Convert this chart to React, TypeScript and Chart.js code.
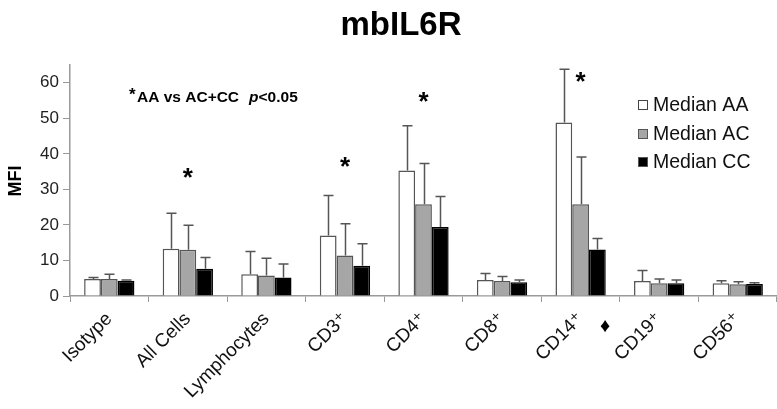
import React, { useEffect, useRef } from "react";
import { Chart, registerables } from "chart.js";

Chart.register(...registerables);

const categories = ["Isotype", "All Cells", "Lymphocytes", "CD3⁺", "CD4⁺", "CD8⁺", "CD14⁺", "CD19⁺", "CD56⁺"];
const markedCategory = 7;
const seriesNames = ["Median AA", "Median AC", "Median CC"];
const medianAA = [4.8, 13.3, 6.1, 17.0, 35.3, 4.5, 48.8, 4.2, 3.6];
const medianAC = [4.8, 13.0, 5.8, 11.4, 25.8, 4.2, 25.8, 3.6, 3.3];
const medianCC = [4.3, 7.7, 5.2, 8.5, 19.4, 3.9, 13.1, 3.6, 3.4];
const errTopAA = [5.2, 23.3, 12.5, 28.3, 47.9, 6.3, 63.8, 7.2, 4.3];
const errTopAC = [6.1, 19.9, 10.6, 20.3, 37.3, 5.5, 39.1, 4.8, 4.0];
const errTopCC = [4.5, 10.8, 9.0, 14.7, 28.0, 4.5, 16.2, 4.5, 3.7];
const starCategories = [1, 3, 4, 6];
const starValues = [34.5, 37.5, 55.7, 61.3];
const yTicks = [0, 10, 20, 30, 40, 50, 60];

const FONT = "'Liberation Sans', Arial, 'DejaVu Sans', sans-serif";
const fills = ["#ffffff", "#a6a6a6", "#000000"];
const borders = ["#555555", "#555555", "#000000"];

const overlay = {
  id: "overlay",
  afterDatasetsDraw(chart: any) {
    const ctx = chart.ctx;
    const x = chart.scales.x;
    const y = chart.scales.y;
    const errs = [errTopAA, errTopAC, errTopCC];
    ctx.save();
    // error bars
    ctx.strokeStyle = "#555";
    ctx.lineWidth = 1.5;
    errs.forEach((arr, di) => {
      const meta = chart.getDatasetMeta(di);
      meta.data.forEach((bar: any, i: number) => {
        const cx = Math.round(bar.x) + 0.5;
        const yTop = y.getPixelForValue(arr[i]);
        const yBar = bar.y;
        ctx.beginPath();
        ctx.moveTo(cx, yBar);
        ctx.lineTo(cx, yTop);
        ctx.moveTo(cx - 5, yTop);
        ctx.lineTo(cx + 5, yTop);
        ctx.stroke();
      });
    });
    // stars
    ctx.fillStyle = "#000";
    ctx.font = `bold 26px ${FONT}`;
    ctx.textAlign = "center";
    ctx.textBaseline = "middle";
    starCategories.forEach((c, k) => {
      ctx.fillText("*", x.getPixelForValue(c), y.getPixelForValue(starValues[k]) + 5);
    });
    // diamond marker next to CD19+
    ctx.font = `20px ${FONT}`;
    ctx.fillText("♦", x.getPixelForValue(markedCategory) - 54, y.getPixelForValue(0) + 30);
    // title
    ctx.font = `bold 33px ${FONT}`;
    ctx.textBaseline = "middle";
    ctx.fillText("mbIL6R", 401, 26);
    // y title
    ctx.save();
    ctx.translate(16, 181);
    ctx.rotate(-Math.PI / 2);
    ctx.font = `bold 18px ${FONT}`;
    ctx.fillText("MFI", 0, 0);
    ctx.restore();
    // annotation
    ctx.textAlign = "left";
    ctx.textBaseline = "alphabetic";
    ctx.font = `bold 17px ${FONT}`;
    ctx.fillText("*", 129, 100);
    ctx.font = `bold 15.5px ${FONT}`;
    let ax = 137;
    ctx.fillText("AA vs AC+CC", ax, 102);
    ax += ctx.measureText("AA vs AC+CC").width + 10;
    ctx.font = `italic bold 15.5px ${FONT}`;
    ctx.fillText("p", ax, 102);
    ax += ctx.measureText("p").width;
    ctx.font = `bold 15.5px ${FONT}`;
    ctx.fillText("<0.05", ax, 102);
    // legend
    ctx.font = `19.5px ${FONT}`;
    ctx.textBaseline = "middle";
    const rowsY = [105, 134, 162];
    seriesNames.forEach((n, i) => {
      ctx.fillStyle = fills[i];
      ctx.fillRect(638.5, rowsY[i] - 4.5, 9, 9);
      ctx.strokeStyle = i === 0 ? "#444" : "#555";
      ctx.lineWidth = 1;
      ctx.strokeRect(638.5, rowsY[i] - 4.5, 9, 9);
      ctx.fillStyle = "#111";
      ctx.fillText(n, 653, rowsY[i] + 1);
    });
    ctx.restore();
  },
};

export default function App() {
  const ref = useRef<HTMLCanvasElement>(null);
  useEffect(() => {
    document.body.style.margin = "0";
    const chart = new Chart(ref.current!, {
      type: "bar",
      data: {
        labels: categories,
        datasets: [medianAA, medianAC, medianCC].map((d, i) => ({
          label: seriesNames[i],
          data: d,
          backgroundColor: fills[i],
          borderColor: borders[i],
          borderWidth: 1.5,
          barPercentage: 1,
          categoryPercentage: 0.64,
        })),
      },
      options: {
        responsive: false,
        animation: false,
        layout: { padding: { top: 65, right: 0, left: 0, bottom: 0 } },
        plugins: { legend: { display: false }, tooltip: { enabled: false }, title: { display: false } },
        scales: {
          x: {
            grid: { display: true, drawOnChartArea: false, drawTicks: true, tickLength: 6, color: "#999", offset: true },
            border: { display: true, color: "#999", width: 1.5 },
            ticks: {
              maxRotation: 45,
              minRotation: 45,
              color: "#111",
              font: { family: FONT, size: 19 },
              padding: 6,
            },
            afterFit: (s: any) => {
              s.height = 113;
            },
          },
          y: {
            min: 0,
            max: 65,
            grid: { display: true, drawOnChartArea: false, drawTicks: true, tickLength: 7, color: "#999" },
            border: { display: true, color: "#999", width: 1.5 },
            ticks: { stepSize: 10, color: "#222", font: { family: FONT, size: 17 }, padding: 4 },
            afterBuildTicks: (s: any) => {
              s.ticks = yTicks.map((v) => ({ value: v }));
            },
            afterFit: (s: any) => {
              s.width = 70;
            },
          },
        },
      },
      plugins: [overlay],
    });
    return () => chart.destroy();
  }, []);
  return (
    <div style={{ position: "absolute", left: 0, top: 0, width: 777, height: 409 }}>
      <canvas ref={ref} width={777} height={409} style={{ width: 777, height: 409 }} />
    </div>
  );
}
